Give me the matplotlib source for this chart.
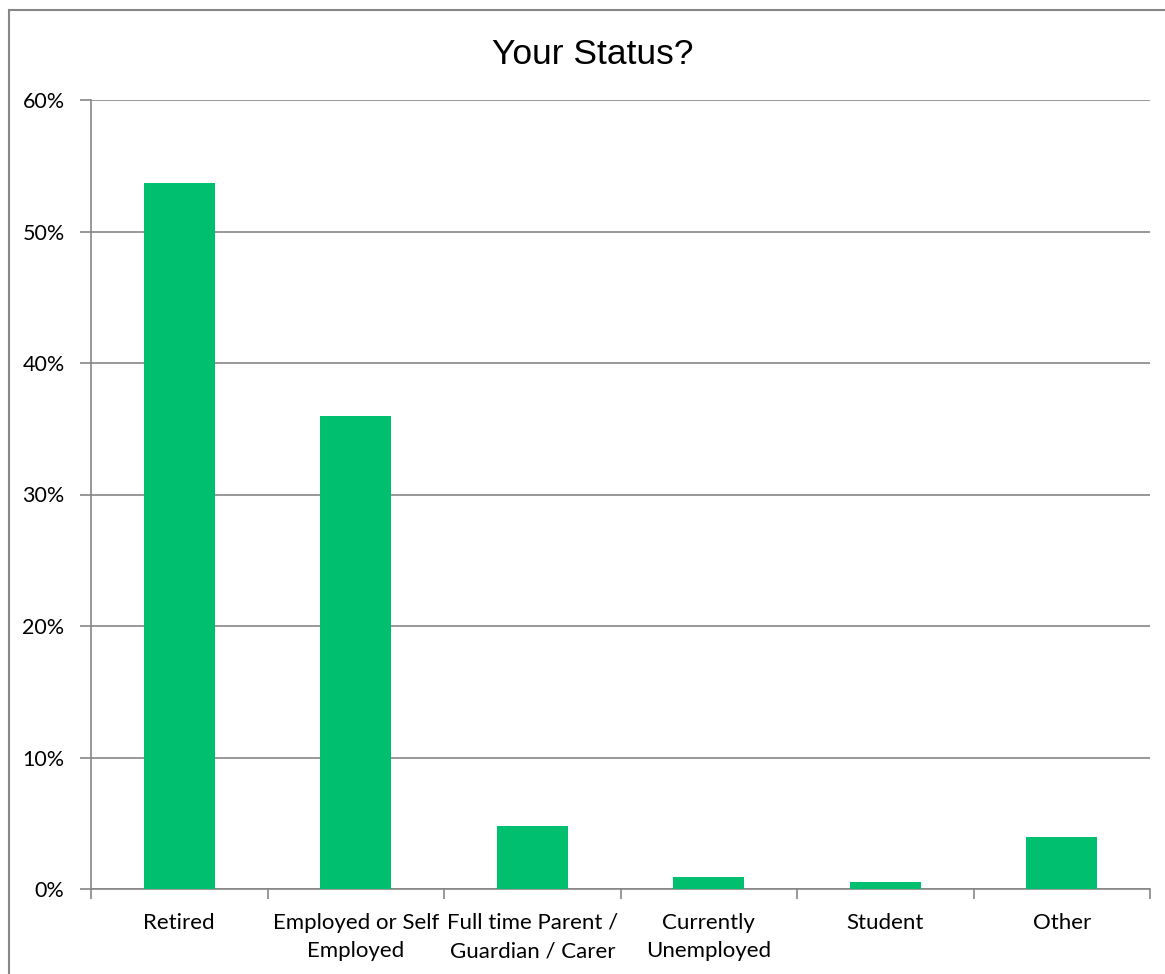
import numpy as np
import matplotlib.pyplot as plt
from matplotlib.patches import Rectangle
from matplotlib.ticker import FuncFormatter

categories = ["Retired", "Employed or Self\nEmployed", "Full time Parent /\nGuardian / Carer",
              "Currently\nUnemployed", "Student", "Other"]
values = [53.7, 36.0, 4.8, 0.9, 0.5, 3.95]

bar_color = "#00BF6F"
line_color = "#868686"

fig = plt.figure(figsize=(11.65, 9.74), dpi=100)
ax = fig.add_axes([91 / 1165, 1 - 889 / 974, 1059 / 1165, 789 / 974])

x = np.arange(len(categories))
ax.bar(x, values, width=0.4, color=bar_color, zorder=3)

ax.set_xlim(-0.5, len(categories) - 0.5)
ax.set_ylim(0, 60)
ax.set_yticks(np.arange(0, 61, 10))
ax.yaxis.set_major_formatter(FuncFormatter(lambda v, p: f"{v:.0f}%"))
ax.grid(axis="y", color=line_color, linewidth=1.2, zorder=0)

ax.set_xticks(x)
ax.set_xticklabels(categories, fontsize=16, family="Lato", linespacing=1.55)
ax.set_xticks(np.arange(-0.5, len(categories)), minor=True)
ax.tick_params(axis="x", which="major", length=0, pad=17)
ax.tick_params(axis="x", which="minor", length=7, color=line_color, width=1.2)
ax.tick_params(axis="y", length=8, color=line_color, width=1.2, pad=11)
for lab in ax.get_yticklabels():
    lab.set_fontsize(15.5)
    lab.set_family("Lato")

for side in ["top", "right"]:
    ax.spines[side].set_visible(False)
for side in ["left", "bottom"]:
    ax.spines[side].set_color(line_color)
    ax.spines[side].set_linewidth(1.2)

fig.text(593 / 1165, 1 - 54 / 974, "Your Status?", ha="center", va="center",
         fontsize=25.5, family="Liberation Sans")

fig.patches.append(Rectangle((9 / 1165, -0.01), 1.02, 1 - 10 / 974 + 0.01,
                             transform=fig.transFigure, fill=False,
                             edgecolor=line_color, linewidth=1.5))

fig.savefig("out.png", dpi=100)
